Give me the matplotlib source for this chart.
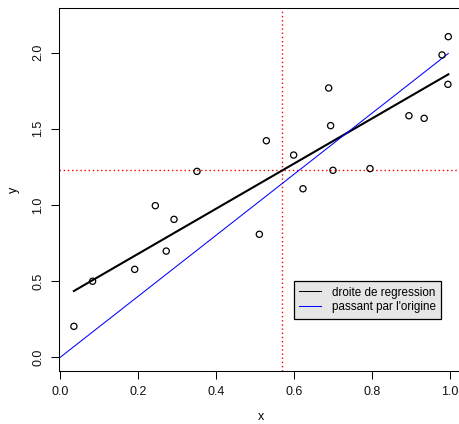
import matplotlib
matplotlib.use("Agg")
import matplotlib.pyplot as plt
import numpy as np

plt.rcParams['font.family'] = ['Liberation Sans', 'DejaVu Sans']

# sample values
x = np.array([0.035, 0.083, 0.191, 0.272, 0.244, 0.292, 0.351, 0.529, 0.599, 0.623,
              0.689, 0.694, 0.700, 0.795, 0.895, 0.934, 0.980, 0.996, 0.995, 0.511])
y = np.array([0.203, 0.499, 0.577, 0.697, 0.995, 0.905, 1.220, 1.421, 1.327, 1.106,
              1.767, 1.520, 1.227, 1.238, 1.585, 1.568, 1.984, 2.104, 1.791, 0.807])

xticks = [0.0, 0.2, 0.4, 0.6, 0.8, 1.0]
yticks = [0.0, 0.5, 1.0, 1.5, 2.0]
legend_labels = ["droite de regression", "passant par l'origine"]

# least squares fit, and fit forced through the origin
b, a = np.polyfit(x, y, 1)
b0 = np.sum(x * y) / np.sum(x * x)

fig = plt.figure(figsize=(4.6, 4.24), dpi=100)
ax = fig.add_axes([0.1276, 0.125, 0.8783, 0.8554])

ax.scatter(x, y, s=20, facecolors='none', edgecolors='black', linewidths=0.9, zorder=3)

ax.axvline(x.mean(), color='red', linestyle=(0, (1, 2)), lw=1)
ax.axhline(y.mean(), color='red', linestyle=(0, (1, 2)), lw=1)

xs = np.array([x.min(), x.max()])
ax.plot(xs, a + b * xs, color='black', lw=1.5)
xo = np.array([0.0, x.max()])
ax.plot(xo, b0 * xo, color='blue', lw=0.75)

# legend keys drawn with thin lines
ax.plot([], [], color='black', lw=0.75, label=legend_labels[0])
ax.plot([], [], color='blue', lw=0.75, label=legend_labels[1])

ax.set_xlim(-0.004, 1.033)
ax.set_ylim(-0.09, 2.29)
ax.set_xticks(xticks)
ax.set_xticklabels([f"{t:.1f}" for t in xticks])
ax.set_yticks(yticks)
ax.set_yticklabels([f"{t:.1f}" for t in yticks], rotation=90, va='center')
ax.tick_params(direction='out', length=5.5, width=0.75, labelsize=9,
               colors='black', labelcolor='#111111')
ax.tick_params(axis='x', pad=5)
ax.tick_params(axis='y', pad=5)
for s in ax.spines.values():
    s.set_linewidth(0.75)
    s.set_color('black')

ax.set_xlabel("x", fontsize=9, labelpad=10)
ax.set_ylabel("y", fontsize=9, labelpad=9)

leg = ax.legend(loc='upper left', bbox_to_anchor=(0.5824, 0.2473), borderaxespad=0,
                fontsize=8.4, frameon=True, fancybox=False, edgecolor='black',
                facecolor='#e6e6e6', framealpha=1, handlelength=1.9,
                handletextpad=0.9, labelspacing=0.25, borderpad=0.45)
leg.get_frame().set_linewidth(0.9)

fig.savefig("out.png", dpi=100)
